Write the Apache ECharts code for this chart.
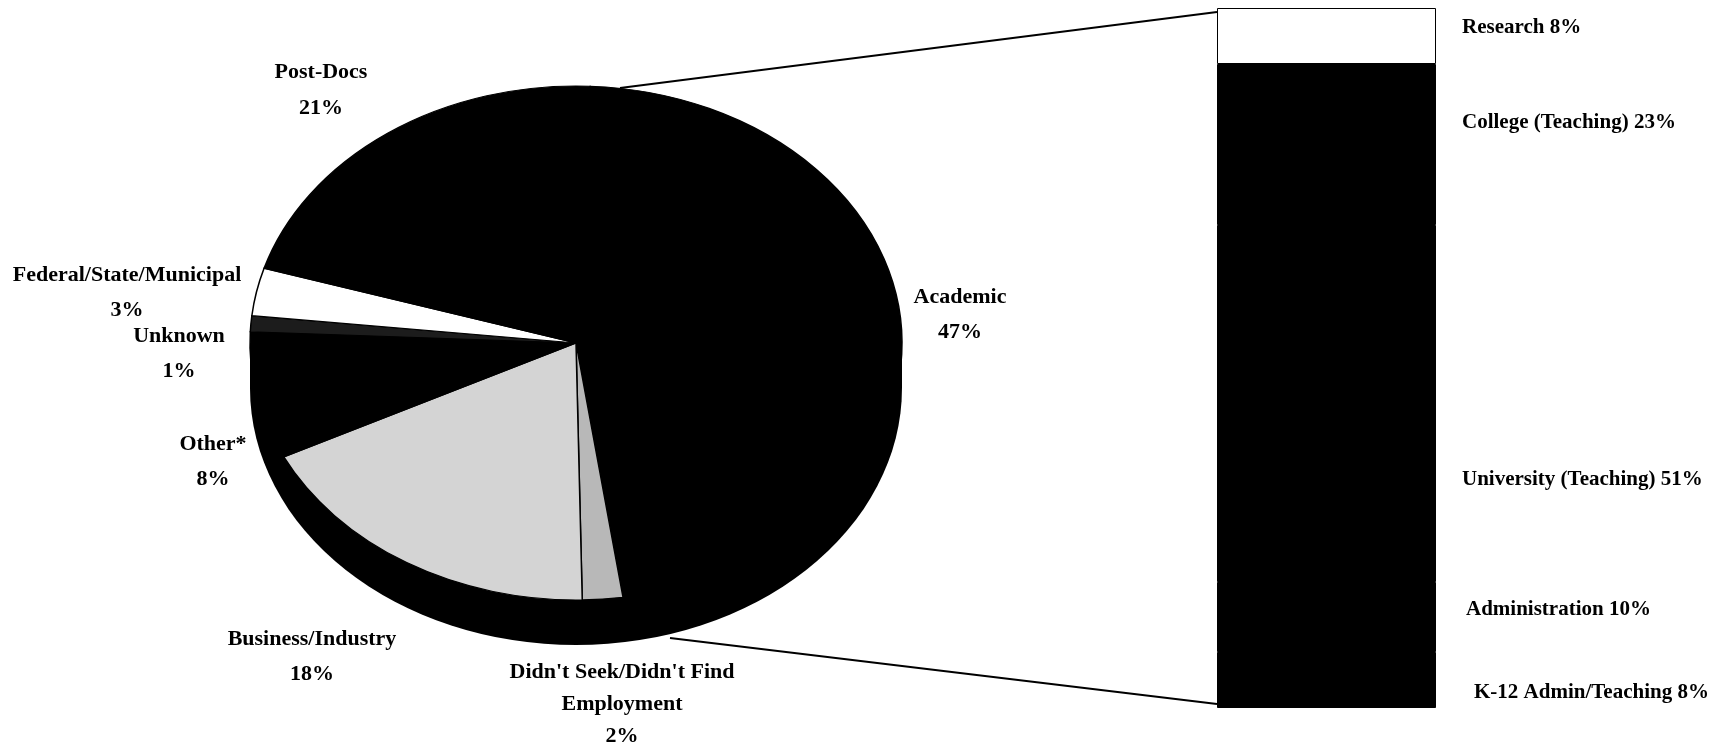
<!DOCTYPE html>
<html><head><meta charset="utf-8">
<script src="https://cdn.jsdelivr.net/npm/echarts@6/dist/echarts.min.js"></script>
<style>html,body{margin:0;padding:0;background:#fff}#main{width:1728px;height:751px}</style>
</head><body><div id="main"></div>
<script>
// ---- Data ----
const pieCategories = ['Academic', "Didn't Seek/Didn't Find Employment", 'Business/Industry', 'Other*', 'Unknown', 'Federal/State/Municipal', 'Post-Docs'];
const pieValues = [47, 2, 18, 8, 1, 3, 21];
const barCategories = ['Research', 'College (Teaching)', 'University (Teaching)', 'Administration', 'K-12 Admin/Teaching'];
const barValues = [8, 23, 51, 10, 8];

// ---- Layout & style ----
const PIE = {cx: 576, cy: 343, rx: 326, ry: 257, depth: 45, startClock: 2.5};
const pieColors = ['#000000', '#b8b8b8', '#d4d4d4', '#000000', '#1c1c1c', '#ffffff', '#000000'];
const pieLabelPos = [[960, 315], [622, 704], [312, 657], [213, 462], [179, 354], [127, 293], [321, 90]];
const pieLabelLineHeight = [35, 32, 35, 35, 35, 35, 36];
const barColors = ['#ffffff', '#000000', '#000000', '#000000', '#000000'];
const barLabelOffset = [[21, -8], [21, -22], [21, 76], [25, -7], [33, 13]];
const BAR = {left: 1217, top: 8, width: 219, height: 700};
const FONT_FAMILY = '"Liberation Serif", "Times New Roman", serif';

const total = pieValues.reduce((a, b) => a + b, 0);
const cum = [];
let acc = 0;
pieValues.forEach(v => { cum.push(acc); acc += v; });

function labelText(i) {
  const name = pieCategories[i].replace('Find ', 'Find\n');
  return name + '\n' + pieValues[i] + '%';
}

function renderPie(params, api) {
  const i = params.dataIndex;
  const v = api.value(0);
  const a0 = PIE.startClock + cum[i] / total * 360;
  const a1 = a0 + v / total * 360;
  const toRad = d => (d - 90) * Math.PI / 180;
  const sy = PIE.ry / PIE.rx;
  const children = [];
  if (i === 0) {
    children.push({type: 'circle', shape: {cx: PIE.cx, cy: PIE.cy + PIE.depth, r: PIE.rx},
      originX: PIE.cx, originY: PIE.cy + PIE.depth, scaleY: sy, z2: -2, style: {fill: '#000'}});
    children.push({type: 'rect', shape: {x: PIE.cx - PIE.rx, y: PIE.cy, width: 2 * PIE.rx, height: PIE.depth},
      z2: -2, style: {fill: '#000'}});
  }
  children.push({type: 'sector',
    shape: {cx: PIE.cx, cy: PIE.cy, r: PIE.rx, r0: 0, startAngle: toRad(a0), endAngle: toRad(a1), clockwise: true},
    originX: PIE.cx, originY: PIE.cy, scaleY: sy, z2: 0,
    style: {fill: pieColors[i], stroke: '#000', lineWidth: 1.5, strokeNoScale: true}});
  children.push({type: 'text', x: pieLabelPos[i][0], y: pieLabelPos[i][1], z2: 10,
    style: {text: labelText(i), fill: '#000', align: 'center', verticalAlign: 'middle',
      font: 'bold 22px ' + FONT_FAMILY, lineHeight: pieLabelLineHeight[i]}});
  return {type: 'group', children: children};
}

const barSeries = barCategories.map((name, i) => ({
  type: 'bar', name: name, stack: 'academic', barWidth: '100%',
  data: [barValues[i]],
  itemStyle: {color: barColors[i], borderColor: '#000', borderWidth: 1},
  label: {show: true, position: 'right', distance: 5, offset: barLabelOffset[i],
    formatter: '{a} {c}%', color: '#000', fontFamily: FONT_FAMILY, fontWeight: 'bold', fontSize: 21},
  silent: true
}));

const chart = echarts.init(document.getElementById('main'));
chart.setOption({
  backgroundColor: '#fff',
  animation: false,
  grid: {left: BAR.left, top: BAR.top, width: BAR.width, height: BAR.height},
  xAxis: {type: 'category', data: ['Academic'], show: false},
  yAxis: {type: 'value', min: 0, max: 100, inverse: true, show: false},
  graphic: [
    {type: 'line', z: 1, shape: {x1: 620, y1: 88, x2: BAR.left, y2: BAR.top + 4}, style: {stroke: '#000', lineWidth: 2}},
    {type: 'line', z: 1, shape: {x1: 670, y1: 638, x2: BAR.left, y2: BAR.top + BAR.height - 4}, style: {stroke: '#000', lineWidth: 2}}
  ],
  series: [
    {type: 'custom', coordinateSystem: 'none', z: 5, silent: true,
      data: pieValues.map((v, i) => ({name: pieCategories[i], value: v})),
      renderItem: renderPie}
  ].concat(barSeries)
});
</script></body></html>
